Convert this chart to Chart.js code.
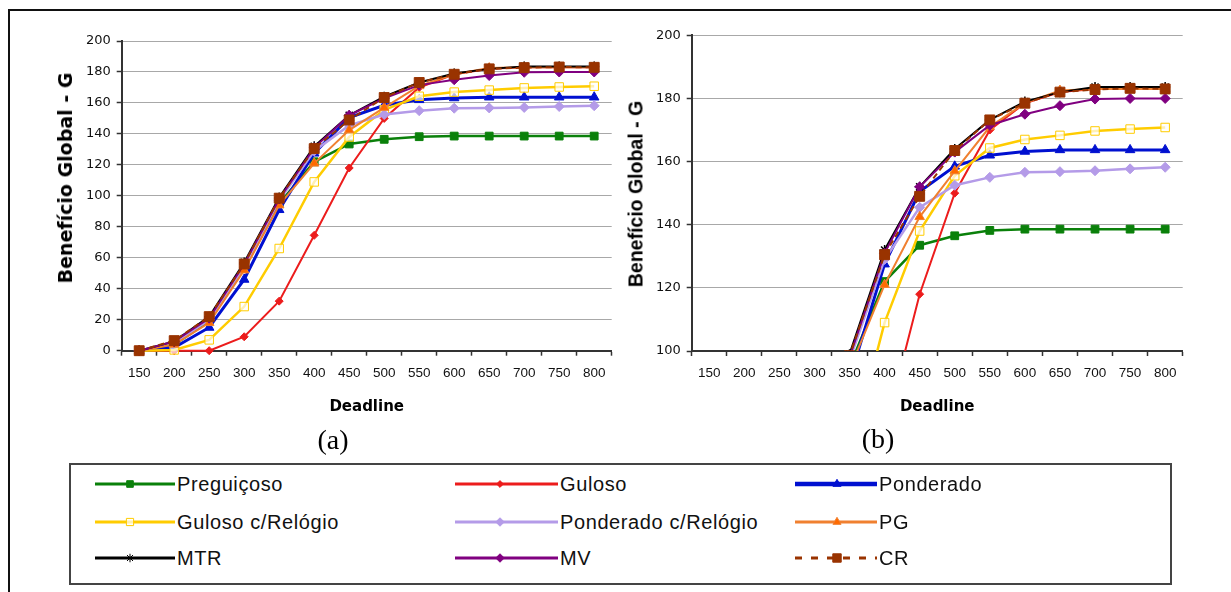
<!DOCTYPE html>
<html lang="pt">
<head>
<meta charset="UTF-8">
<title>Benefício Global x Deadline</title>
<script src="https://cdn.jsdelivr.net/npm/chart.js@4.4.0/dist/chart.umd.min.js"></script>
<style>
  body { margin: 0; background: #fff; width: 1231px; height: 592px; overflow: hidden; position: relative; font-family: "Liberation Sans", Arial, sans-serif; }
  #frame { position: absolute; left: 8px; top: 9px; width: 1240px; height: 600px; border-left: 2px solid #111; border-top: 2px solid #111; }
  .wrap { position: absolute; }
  #wrapA { left: 40px; top: 25px; width: 585px; height: 405px; }
  #wrapB { left: 610px; top: 20px; width: 590px; height: 410px; }
  .ytitle { position: absolute; font-weight: bold; white-space: nowrap; color: #000; transform: translate(-50%, -50%) rotate(-90deg); }
  #ytA { left: 65px; top: 178px; font-family: "DejaVu Sans"; font-size: 19px; }
  #ytB { left: 636px; top: 194px; font-family: "Liberation Sans"; font-size: 19.5px; }
  .cap { position: absolute; font-family: "Liberation Serif", "Times New Roman", serif; font-size: 28px; transform: translate(-50%, -50%); }
  #legend { position: absolute; left: 69px; top: 463px; width: 1099px; height: 118px; border: 2px solid #444; }
  .item { position: absolute; height: 24px; display: flex; align-items: center; font-size: 20px; letter-spacing: 0.6px; color: #111; white-space: nowrap; }
  .item canvas { display: block; margin-right: 2px; }
</style>
</head>
<body>
  <div id="frame"></div>
  <div class="wrap" id="wrapA"><canvas id="chartA"></canvas></div>
  <div class="wrap" id="wrapB"><canvas id="chartB"></canvas></div>
  <div class="ytitle" id="ytA">Benefício Global - G</div>
  <div class="ytitle" id="ytB">Benefício Global - G</div>
  <div class="cap" style="left:333px;top:440px">(a)</div>
  <div class="cap" style="left:878px;top:439px">(b)</div>
  <div id="legend"></div>

<script>
// x categories (deadline)
const deadlines = ['150', '200', '250', '300', '350', '400', '450', '500', '550', '600', '650', '700', '750', '800'];

// benefício global per heuristic
const preguicoso         = [0, 4, 19, 53, 95, 122, 133.5, 136.5, 138.2, 138.6, 138.6, 138.6, 138.6, 138.6];
const guloso             = [0, 0, 0, 9, 32, 74.5, 118, 150, 170, 178.5, 182, 183, 183, 183];
const ponderado          = [0, 2, 15, 46, 91, 127.5, 150.5, 158.5, 162, 163.2, 163.7, 163.7, 163.7, 163.7];
const gulosoRelogio      = [0, 0.5, 7, 28.5, 66, 109, 138, 155.5, 164.3, 167, 168.3, 169.7, 170.3, 170.8];
const ponderadoRelogio   = [0, 5, 20, 54, 97, 129, 145.5, 152.5, 155, 156.6, 156.8, 157.1, 157.7, 158.2];
const pg                 = [0, 4, 18, 52, 94, 121, 142.5, 157, 171, 178.5, 182.5, 183, 183, 183];
const mtr                = [0, 6, 22, 57, 99, 132, 152, 164, 173.2, 179, 182, 183.6, 183.6, 183.6];
const mv                 = [0, 6, 21, 56, 98, 131, 152, 163, 171.5, 175, 177.7, 179.8, 180, 180];
const cr                 = [0, 6.5, 22, 56, 98.5, 130.5, 149, 163.5, 173.2, 178.5, 182, 182.8, 183.2, 183];

// series styles
const series = [
  { label: 'Preguiçoso', data: preguicoso, color: '#0a800a', style: 'rect', r: 5.5, w: 2.5, lw: 3 },
  { label: 'Guloso', data: guloso, color: '#ec1c1c', style: 'rectRot', r: 4, w: 2, lw: 3 },
  { label: 'Ponderado', data: ponderado, color: '#0010d0', style: 'triangle', r: 5.5, w: 3, lw: 4.5 },
  { label: 'Guloso c/Relógio', data: gulosoRelogio, color: '#ffcc00', fill: 'rgba(255,255,255,0.7)', style: 'rect', r: 6, w: 2.5, lw: 3 },
  { label: 'Ponderado c/Relógio', data: ponderadoRelogio, color: '#b49be8', style: 'rectRot', r: 5, w: 2.5, lw: 3 },
  { label: 'PG', data: pg, color: '#f08030', fill: '#ff6a00', style: 'triangle', r: 5.5, w: 2, lw: 3 },
  { label: 'MTR', data: mtr, color: '#000000', style: 'star', r: 5, w: 2, lw: 3 },
  { label: 'MV', data: mv, color: '#800080', style: 'rectRot', r: 5, w: 2, lw: 3 },
  { label: 'CR', data: cr, color: '#993300', style: 'rect', r: 7, w: 2, lw: 3, dash: [6, 4] }
];

function makeDatasets(clip) {
  return series.map((s, i) => ({
    label: s.label,
    data: s.data,
    borderColor: s.color,
    backgroundColor: s.fill || s.color,
    pointBorderColor: s.color,
    pointBackgroundColor: s.fill || s.color,
    borderWidth: s.w,
    borderDash: s.dash || [],
    pointStyle: s.style,
    pointRadius: s.r,
    pointBorderWidth: s.style === 'star' ? 1.5 : 1,
    tension: 0,
    order: series.length - i,
    clip: clip
  }));
}

function makeOptions(yMin, xHeight, pad) {
  return {
    responsive: true,
    maintainAspectRatio: false,
    animation: false,
    layout: { padding: pad },
    plugins: { legend: { display: false }, tooltip: { enabled: false } },
    scales: {
      x: {
        type: 'category',
        offset: true,
        grid: { display: true, drawOnChartArea: false, drawTicks: true, tickLength: 5, offset: true, tickColor: '#333', tickWidth: 1.5 },
        border: { display: true, color: '#333', width: 2 },
        ticks: { color: '#111', font: { family: 'Liberation Sans', size: 13.5 }, padding: 9, maxRotation: 0, autoSkip: false },
        title: { display: true, text: 'Deadline', color: '#000', font: { family: 'DejaVu Sans', size: 15, weight: 'bold' }, padding: { top: 4, bottom: 14 } },
        afterFit: s => { s.height = xHeight; }
      },
      y: {
        min: yMin,
        max: 200,
        ticks: { stepSize: 20, color: '#111', font: { family: 'DejaVu Sans', size: 13 }, padding: 6 },
        grid: { color: '#a8a8a8', lineWidth: 1, borderDash: [4, 4], tickBorderDash: [], tickColor: '#333', tickWidth: 1.5, tickLength: 5 },
        border: { display: true, color: '#333', width: 2 },
        afterFit: s => { s.width = 81.7; }
      }
    }
  };
}

new Chart(document.getElementById('chartA'), {
  type: 'line',
  data: { labels: deadlines, datasets: makeDatasets(false) },
  options: makeOptions(0, 79.3, { left: 0, right: 13.3, top: 16, bottom: 0 })
});

new Chart(document.getElementById('chartB'), {
  type: 'line',
  data: { labels: deadlines, datasets: makeDatasets({ left: 0, top: 10, right: 10, bottom: 0 }) },
  options: makeOptions(100, 79, { left: 0, right: 17.3, top: 15.3, bottom: 0 })
});

// legend shared by both charts (3 columns x 3 rows)
const legendCols = [
  { line: 95, len: 80, marker: 35 },
  { line: 455, len: 103, marker: 45 },
  { line: 795, len: 82, marker: 42 }
];
const legendRows = [484, 522, 558];
const legend = document.getElementById('legend');
series.forEach((s, i) => {
  const col = legendCols[i % 3];
  const row = legendRows[Math.floor(i / 3)];
  const item = document.createElement('div');
  item.className = 'item';
  item.style.left = (col.line - 71) + 'px';
  item.style.top = (row - 465 - 12) + 'px';
  const cv = document.createElement('canvas');
  cv.width = col.len;
  cv.height = 24;
  item.appendChild(cv);
  const txt = document.createElement('span');
  txt.textContent = s.label;
  item.appendChild(txt);
  legend.appendChild(item);

  const ctx = cv.getContext('2d');
  ctx.strokeStyle = s.color;
  ctx.lineWidth = s.lw;
  ctx.setLineDash(s.dash ? [7, 9] : []);
  ctx.beginPath();
  ctx.moveTo(0, 12);
  ctx.lineTo(col.len, 12);
  ctx.stroke();
  ctx.setLineDash([]);
  ctx.fillStyle = s.fill || s.color;
  ctx.strokeStyle = s.color;
  ctx.lineWidth = 1;
  Chart.helpers.drawPoint(ctx, { pointStyle: s.style, radius: s.r * 0.85, rotation: 0, borderWidth: s.style === 'star' ? 1.5 : 1 }, col.marker, 12);
});
</script>
</body>
</html>
